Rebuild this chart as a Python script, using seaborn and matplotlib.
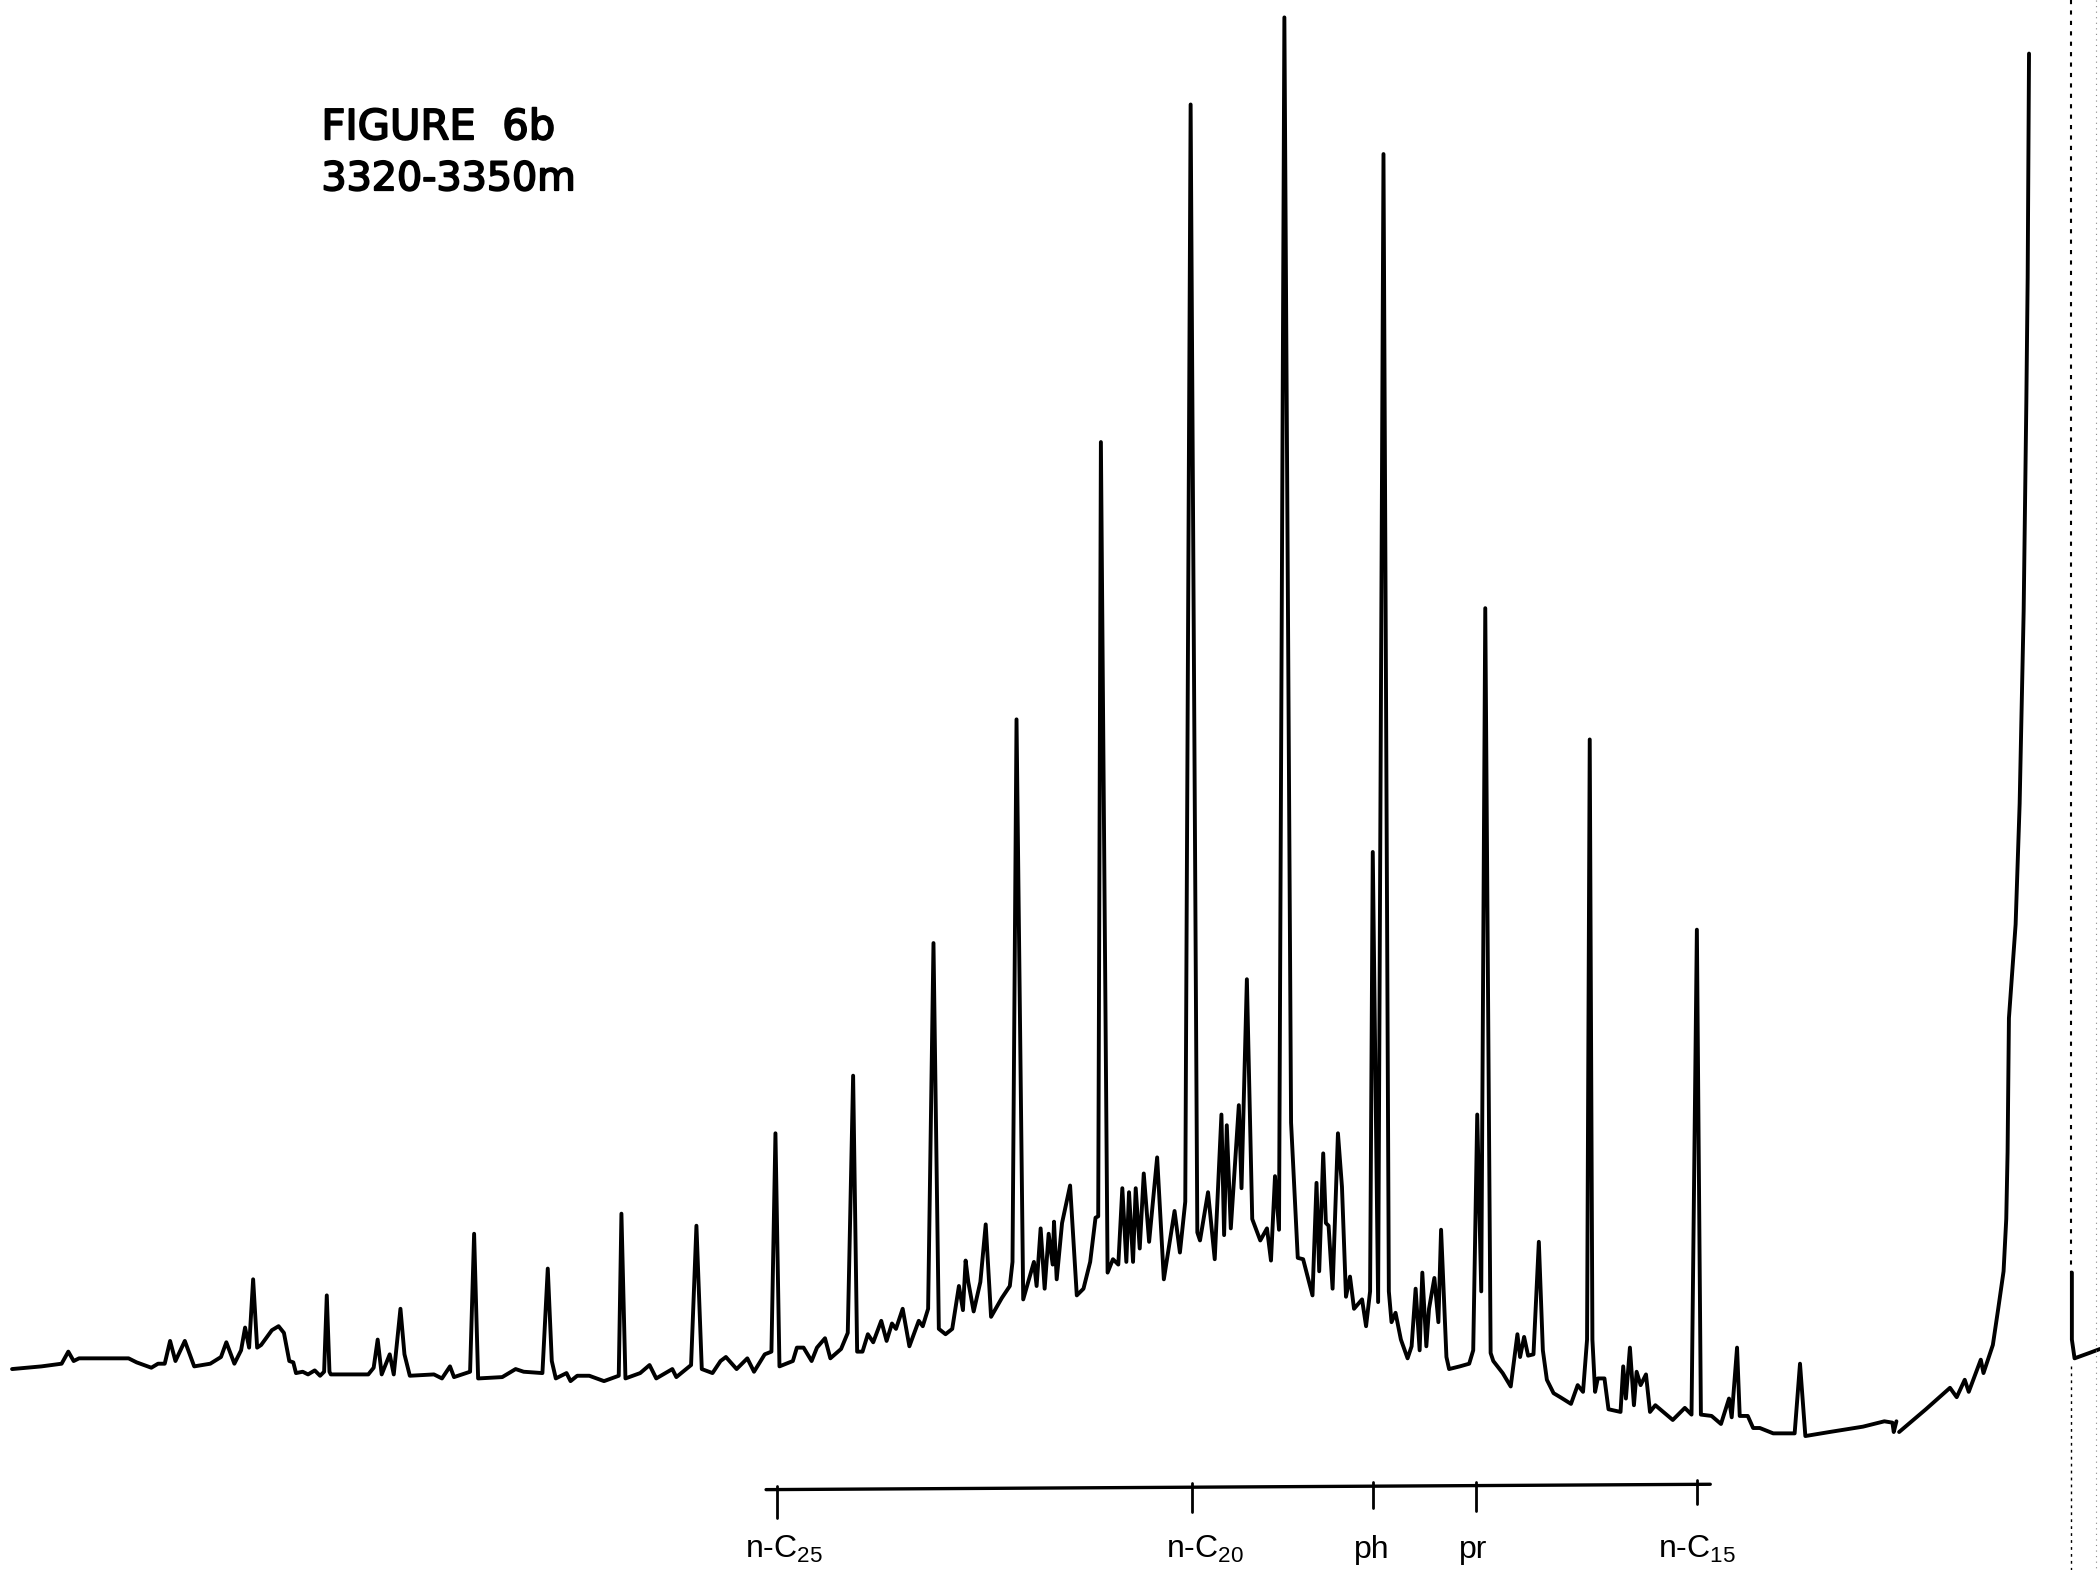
import matplotlib
matplotlib.use("Agg")
import matplotlib.pyplot as plt
import matplotlib.patheffects as pe
import pandas as pd
import seaborn as sns

# ---- Chromatogram trace (retention position, pen position on chart paper; pen y measured downward) ----
trace_x = [9, 31, 46, 51, 55, 59, 75, 96, 102, 113, 118, 123, 127, 131, 138, 145, 157, 165, 169, 175,
           180, 183, 186, 189, 192, 195, 203, 208, 212, 216, 219, 221, 226, 230, 235, 239, 242, 244, 246, 247,
           257, 275, 279, 282, 285, 291, 294, 299, 302, 306, 324, 330, 336, 339, 351, 354, 357, 375, 385, 391,
           405, 409, 412, 415, 423, 426, 431, 440, 451, 462, 464, 467, 478, 485, 490, 502, 505, 516, 520, 524,
           532, 538, 542, 550, 558, 563, 571, 576, 579, 582, 592, 595, 600, 606, 610, 616, 620, 628, 633, 637,
           640, 644, 648, 652, 658, 662, 666, 669, 674, 679, 686, 689, 693, 697, 701, 706, 711, 716, 719, 721,
           723, 727, 732, 736, 740, 748, 754, 756, 759, 764, 772, 774, 777, 780, 783, 786, 787, 789, 793, 799,
           804, 809, 814, 818, 820, 822, 827, 831, 835, 838, 841, 843, 846, 848, 851, 854, 858, 864, 869, 877,
           881, 885, 889, 894, 896, 902, 907, 912, 914, 916, 919, 925, 927, 931, 935, 941, 946, 949, 952, 955,
           959, 964, 969, 973, 980, 983, 985, 988, 990, 992, 995, 999, 1002, 1005, 1008, 1011, 1017, 1020, 1023, 1025,
           1029, 1033, 1037, 1039, 1042, 1046, 1051, 1054, 1057, 1060, 1062, 1065, 1067, 1071, 1074, 1076, 1080, 1082, 1090, 1097,
           1100, 1103, 1106, 1109, 1113, 1115, 1122, 1128, 1133, 1135, 1138, 1141, 1145, 1149, 1152, 1155, 1160, 1165, 1173, 1178,
           1182, 1185, 1187, 1189, 1191, 1193, 1198, 1201, 1210, 1212, 1214, 1217, 1220, 1222, 1225, 1229, 1232, 1236, 1249, 1258,
           1263, 1267, 1270, 1278, 1285, 1291, 1293, 1297, 1299, 1305, 1309, 1314, 1324, 1340, 1344, 1348, 1366, 1391, 1407, 1413,
           1414, 1416]
trace_y = [1022, 1020, 1018, 1009, 1016, 1014, 1014, 1014, 1017, 1021, 1018, 1018, 1001, 1016, 1001, 1020, 1018, 1013, 1002, 1018,
           1008, 991, 1006, 955, 1006, 1004, 993, 990, 995, 1016, 1017, 1025, 1024, 1026, 1023, 1027, 1024, 967, 1024, 1026,
           1026, 1026, 1021, 1000, 1026, 1011, 1026, 977, 1011, 1027, 1026, 1029, 1020, 1028, 1024, 921, 1029, 1028, 1022, 1024,
           1025, 947, 1016, 1029, 1025, 1031, 1027, 1027, 1031, 1027, 906, 1029, 1025, 1019, 1029, 1022, 1028, 1019, 915, 1022,
           1025, 1016, 1013, 1022, 1014, 1024, 1011, 1009, 846, 1020, 1016, 1006, 1006, 1016, 1006, 999, 1014, 1007, 995, 803,
           1009, 1009, 996, 1002, 986, 1001, 988, 992, 977, 1005, 986, 990, 977, 704, 992, 996, 992, 960, 978, 941,
           957, 979, 957, 914, 983, 969, 960, 942, 537, 970, 942, 960, 917, 962, 921, 944, 912, 955, 913, 885,
           967, 962, 942, 909, 908, 330, 950, 940, 944, 887, 942, 890, 942, 887, 932, 876, 927, 864, 955, 904,
           935, 897, 78, 920, 926, 890, 940, 832, 922, 840, 917, 825, 887, 731, 910, 926, 917, 941, 878, 918,
           13, 838, 939, 940, 967, 883, 949, 861, 913, 915, 962, 846, 886, 968, 953, 977, 970, 990, 964, 636,
           972, 115, 964, 987, 980, 1000, 1014, 1005, 962, 1008, 950, 1005, 977, 954, 987, 918, 1013, 1022, 1020, 1018,
           1008, 832, 964, 454, 1010, 1016, 1025, 1035, 996, 1013, 998, 1012, 1011, 927, 1008, 1030, 1040, 1043, 1048, 1034,
           1039, 1000, 552, 1000, 1039, 1029, 1029, 1052, 1054, 1020, 1044, 1006, 1049, 1024, 1034, 1026, 1054, 1049, 1060, 1051,
           1056, 694, 1056, 1057, 1063, 1044, 1058, 1006, 1057, 1057, 1066, 1066, 1070, 1070, 1018, 1072, 1069, 1065, 1061, 1062,
           1069, 1061]

# solvent front rise after the pen gap
ramp_x = [1418, 1438, 1456, 1461, 1467, 1470, 1479, 1481, 1488, 1492, 1496, 1498, 1499, 1500, 1505, 1508, 1511, 1513, 1514, 1515]
ramp_y = [1069, 1052, 1036, 1043, 1030, 1039, 1015, 1025, 1004, 977, 949, 910, 860, 760, 690, 600, 456, 300, 207, 40]

# pen return at the right edge
edge_x = [1547, 1547, 1549, 1560, 1568]
edge_y = [950, 1000, 1014, 1010, 1007]

# ---- Identification scale ----
scale_x = [572, 1277]
scale_y = [1112, 1108]
marker_labels = ["n-C$_{25}$", "n-C$_{20}$", "ph", "pr", "n-C$_{15}$"]
marker_x = [580, 890, 1025, 1102, 1267]
marker_bottom = [1133, 1129, 1126, 1128, 1123]
label_x = [585, 900, 1024, 1100, 1267]

title_lines = ["FIGURE  6b", "3320-3350m"]

sns.set_theme(style="white")
plt.rcParams["font.family"] = ["DejaVu Sans"]
plt.rcParams["mathtext.default"] = "regular"

fig = plt.figure(figsize=(21, 15.7), dpi=100)
ax = fig.add_axes([0, 0, 1, 1])

trace = pd.DataFrame({"rt": trace_x, "pen": trace_y})
ramp = pd.DataFrame({"rt": ramp_x, "pen": ramp_y})
edge = pd.DataFrame({"rt": edge_x, "pen": edge_y})
for df in (trace, ramp, edge):
    sns.lineplot(data=df, x="rt", y="pen", sort=False, estimator=None,
                 color="black", linewidth=2.8, ax=ax, legend=False)

# dotted page-edge lines of the scan
ax.plot([1546, 1546], [0, 950], color="black", linewidth=1.5, linestyle=(0, (2, 3)))
ax.plot([1546, 1546], [1020, 1172], color="black", linewidth=1.0, linestyle=(0, (2, 3)))
ax.plot([1565, 1565], [0, 1172], color="#888888", linewidth=0.8, linestyle=(0, (1, 4)))

# scale bar with markers
sns.lineplot(x=scale_x, y=scale_y, color="black", linewidth=2.4, ax=ax, sort=False, estimator=None)
for mx, mb, lx, lab in zip(marker_x, marker_bottom, label_x, marker_labels):
    ly = scale_y[0] + (scale_y[1] - scale_y[0]) * (mx - scale_x[0]) / (scale_x[1] - scale_x[0])
    ax.plot([mx, mx], [ly - 3, mb], color="black", linewidth=2.0)
    ax.text(lx, 1163, lab, ha="center", va="baseline", fontsize=23,
            family=["Liberation Sans", "DejaVu Sans"], color="black")

thick = [pe.withStroke(linewidth=1.3, foreground="black")]
ax.text(240, 104, title_lines[0], ha="left", va="baseline", fontsize=30,
        color="black", path_effects=thick)
ax.text(240, 142, title_lines[1], ha="left", va="baseline", fontsize=28.5,
        color="black", path_effects=thick)

ax.set_xlim(0, 1568)
ax.set_ylim(1172, 0)
ax.axis("off")
fig.savefig("out.png", dpi=100, facecolor="white")
